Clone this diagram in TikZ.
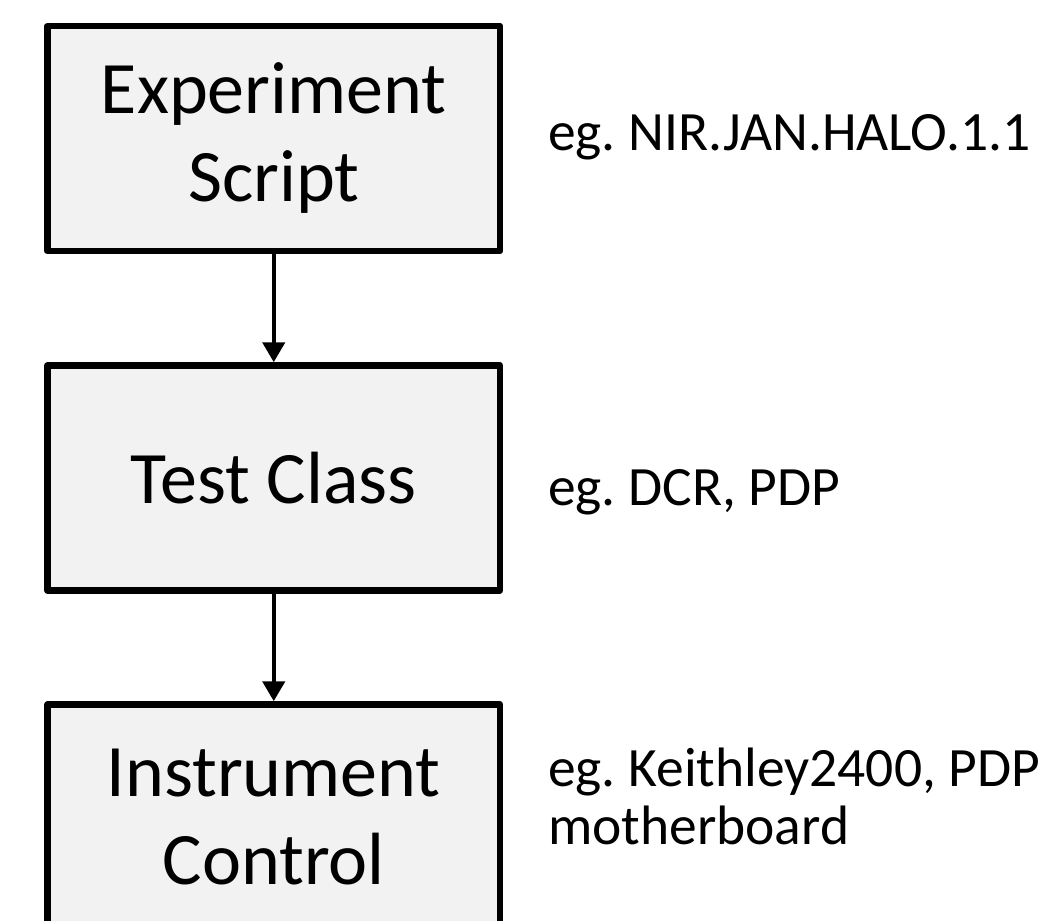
\documentclass[tikz,border=0pt]{standalone}
\usepackage{fontspec}
\setmainfont{Carlito}
\usetikzlibrary{arrows.meta}
\definecolor{boxfill}{HTML}{F2F2F2}
\tikzset{
  stagebox/.style={draw=black, fill=boxfill, line width=6.5pt, line join=round,
    minimum width=452.5pt, minimum height=225pt, align=center, inner sep=0pt,
    font=\fontsize{74}{88}\selectfont},
  note/.style={anchor=west, align=left, inner sep=0pt,
    font=\fontsize{55.5}{58}\selectfont\frenchspacing},
  flow/.style={line width=4.5pt, -{Triangle[width=22pt,length=20pt]}}
}
\begin{document}
\frenchspacing
\begin{tikzpicture}[x=1pt,y=1pt]
\useasboundingbox (0,0) rectangle (1043,-920);
\node[stagebox] (b1) at (273.75,-138.5) {Experiment\\Script};
\node[stagebox] (b2) at (273.75,-478) {Test Class};
\node[stagebox] (b3) at (273.75,-817) {Instrument\\Control};
\draw[flow] (b1.south) -- (b2.north);
\draw[flow] (b2.south) -- (b3.north);
\node[note] (n1) at (548,-137) {eg. NIR.JAN.HALO.1.1};
\node[note] (n2) at (548,-492) {eg. DCR, PDP};
\node[note] (n3) at (548,-796) {eg. Keithley2400, PDP\\motherboard};
\end{tikzpicture}
\end{document}
